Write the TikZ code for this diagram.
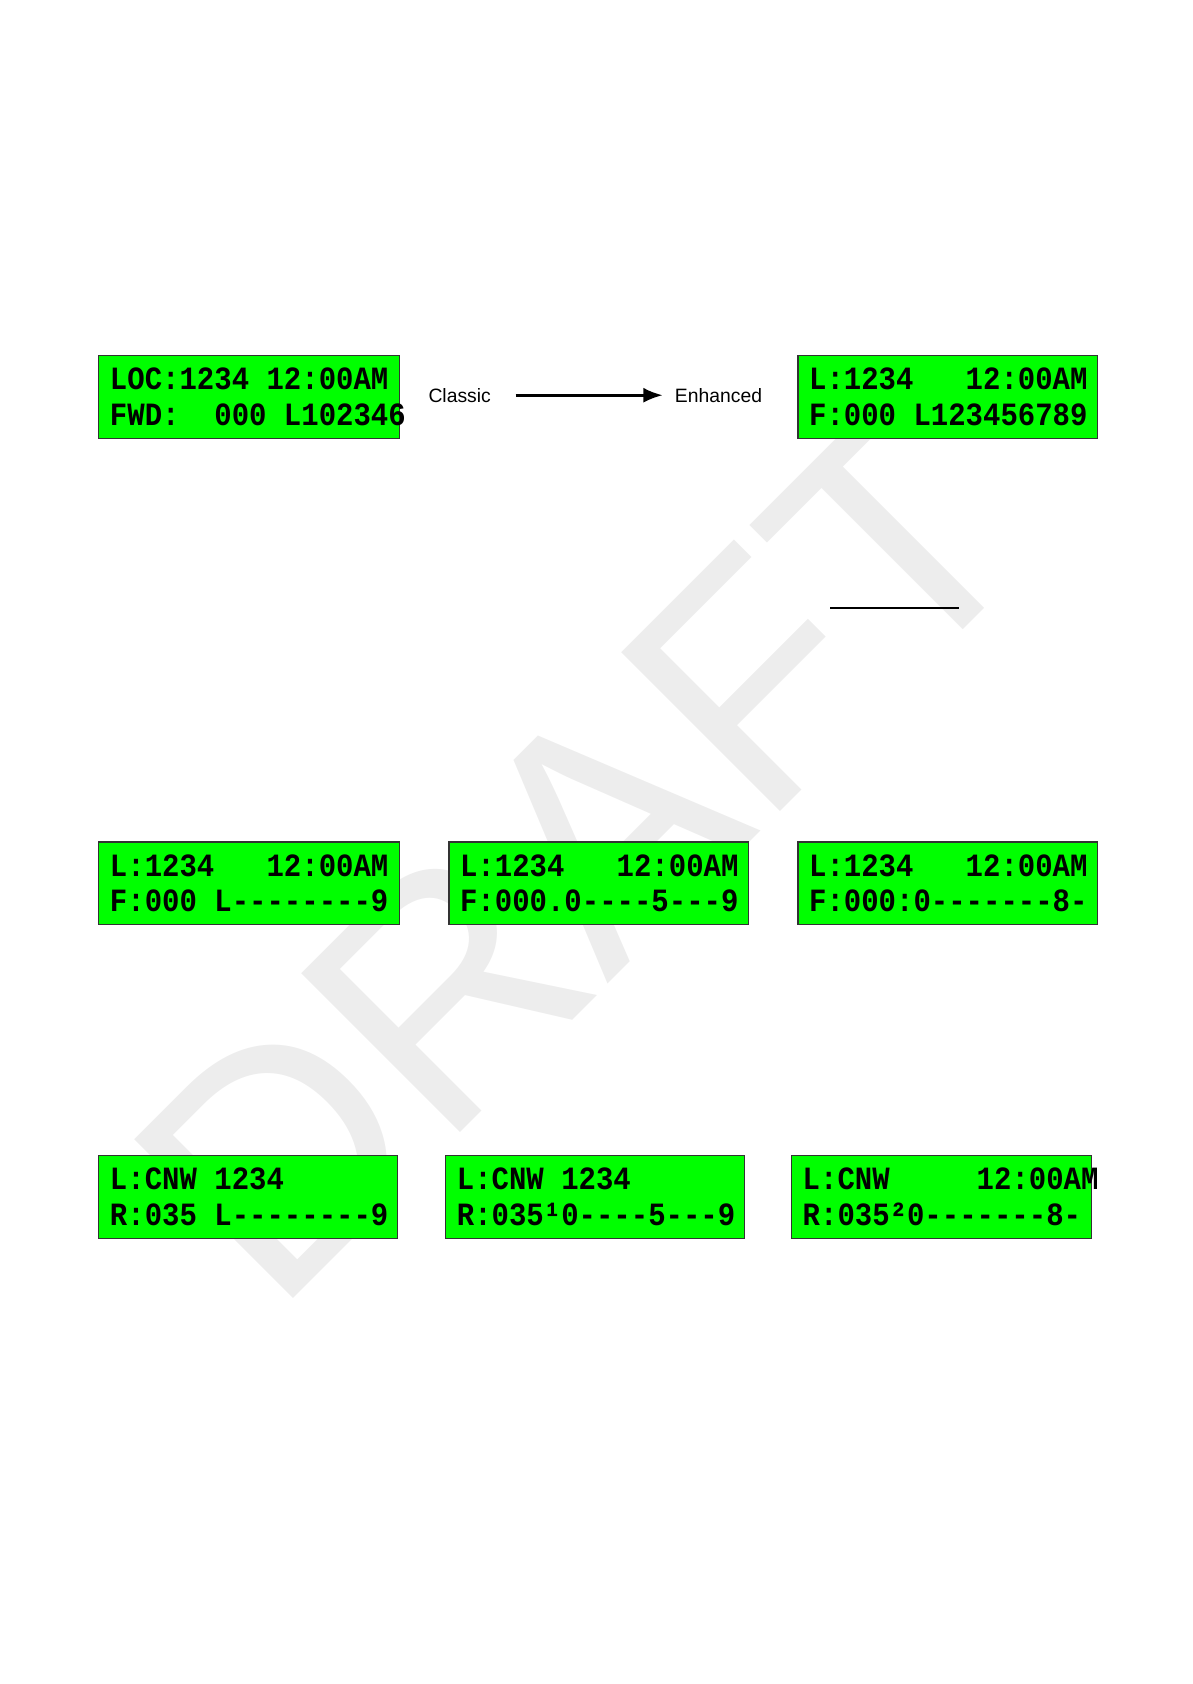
\documentclass[tikz,border=0pt]{standalone}
\usepackage{fontspec}
\usetikzlibrary{arrows.meta}
\setmainfont{Liberation Sans}
\newfontfamily\lcdfont{Liberation Mono}
\definecolor{lcd}{HTML}{00FF00}
\definecolor{wm}{HTML}{EDEDED}
\begin{document}
\begin{tikzpicture}[x=0.5pt,y=-0.5pt,
  lcdbox/.style={draw=black!80,line width=0.6pt,fill=lcd},
  lcdtxt/.style={anchor=base west,inner sep=0pt,font=\lcdfont\bfseries\fontsize{13.5}{14}\selectfont,yscale=1.12},
  lbl/.style={font=\fontsize{9}{11}\selectfont}]
\path[use as bounding box] (0,0) rectangle (1110,1568);
\node[text=wm,rotate=45,font=\fontsize{152}{160}\selectfont] (wm) at (540,795) {DRAFT};
\newcommand{\lcd}[6]{%
  \draw[lcdbox] (#2,#3) rectangle (#4,#3+77);
  \node[lcdtxt] (#1a) at (#2+10,#3+32) {#5};
  \node[lcdtxt] (#1b) at (#2+10,#3+65) {#6};}
\lcd{a}{92}{331}{372}{LOC:1234~12:00AM}{FWD:~~000~L102346}
\lcd{b}{743}{331}{1022}{L:1234~~~12:00AM}{F:000~L123456789}
\lcd{c}{92}{784}{372}{L:1234~~~12:00AM}{F:000~L--------9}
\lcd{d}{418}{784}{697}{L:1234~~~12:00AM}{F:000.0----5---9}
\lcd{e}{743}{784}{1022}{L:1234~~~12:00AM}{F:000:0-------8-}
\lcd{f}{92}{1076}{370}{L:CNW~1234}{R:035~L--------9}
\lcd{g}{415}{1076}{693}{L:CNW~1234}{R:035¹0----5---9}
\lcd{h}{737}{1076}{1016}{L:CNW~~~~~12:00AM}{R:035²0-------8-}
\node[lbl] (cl) at (428,368) {Classic};
\node[lbl] (en) at (669,368) {Enhanced};
\draw[line width=1.2pt,-{Latex[length=9pt,width=7pt]}] (cl.east) ++(16,0) coordinate (as) -- (617,368) coordinate (ae);
\draw[line width=0.8pt] (773,566) coordinate (u1) -- (893,566) coordinate (u2);
\end{tikzpicture}
\end{document}
